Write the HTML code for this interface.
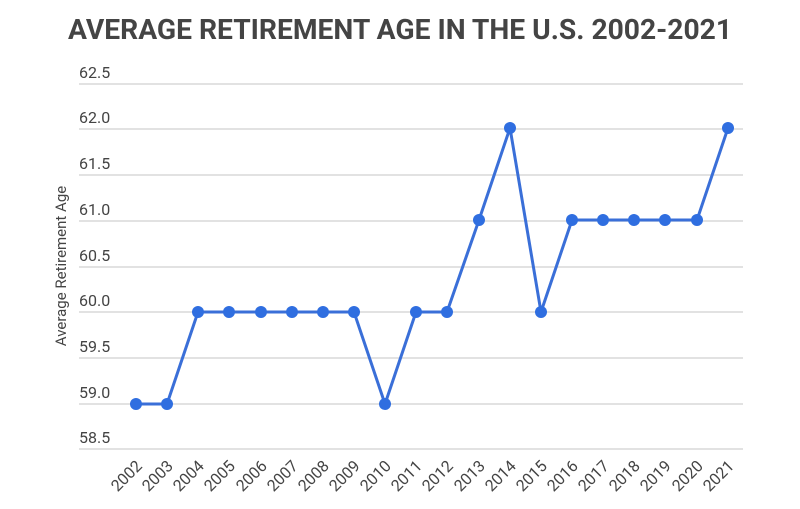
<!DOCTYPE html>
<html><head><style>body{margin:0;background:#fff}svg{display:block}</style></head><body>
<svg width="800" height="509" xmlns="http://www.w3.org/2000/svg" font-family="Roboto, 'Liberation Sans', sans-serif">
<text x="400" y="39" text-anchor="middle" font-size="28" font-weight="bold" fill="#444" textLength="664" lengthAdjust="spacingAndGlyphs">AVERAGE RETIREMENT AGE IN THE U.S. 2002-2021</text>
<g stroke="#d9d9d9" stroke-width="1.5">
<line x1="79" x2="743" y1="84" y2="84"/><line x1="79" x2="743" y1="129" y2="129"/>
<line x1="79" x2="743" y1="175" y2="175"/><line x1="79" x2="743" y1="221" y2="221"/>
<line x1="79" x2="743" y1="267" y2="267"/><line x1="79" x2="743" y1="312" y2="312"/>
<line x1="79" x2="743" y1="358" y2="358"/><line x1="79" x2="743" y1="404" y2="404"/>
<line x1="79" x2="743" y1="449" y2="449"/>
</g>
<g font-size="16" fill="#444">
<text x="79" y="78">62.5</text><text x="79" y="123">62.0</text><text x="79" y="169">61.5</text>
<text x="79" y="215">61.0</text><text x="79" y="261">60.5</text><text x="79" y="306">60.0</text>
<text x="79" y="352">59.5</text><text x="79" y="398">59.0</text><text x="79" y="443">58.5</text>
</g>
<text transform="translate(66,266) rotate(-90)" text-anchor="middle" font-size="15" fill="#444">Average Retirement Age</text>
<polyline fill="none" stroke="#3a6fd8" stroke-width="3" points="136,404 167,404 198,312 229,312 261,312 292,312 323,312 354,312 385,404 416,312 447,312 479,220 510,128 541,312 572,220 603,220 634,220 665,220 697,220 728,128"/>
<g fill="#2f6ee0">
<circle cx="136" cy="404" r="6"/><circle cx="167" cy="404" r="6"/><circle cx="198" cy="312" r="6"/><circle cx="229" cy="312" r="6"/><circle cx="261" cy="312" r="6"/><circle cx="292" cy="312" r="6"/><circle cx="323" cy="312" r="6"/><circle cx="354" cy="312" r="6"/><circle cx="385" cy="404" r="6"/><circle cx="416" cy="312" r="6"/><circle cx="447" cy="312" r="6"/><circle cx="479" cy="220" r="6"/><circle cx="510" cy="128" r="6"/><circle cx="541" cy="312" r="6"/><circle cx="572" cy="220" r="6"/><circle cx="603" cy="220" r="6"/><circle cx="634" cy="220" r="6"/><circle cx="665" cy="220" r="6"/><circle cx="697" cy="220" r="6"/><circle cx="728" cy="128" r="6"/>
</g>
<g font-size="16" fill="#444" text-anchor="end">
<text transform="translate(143,467) rotate(-45)">2002</text>
<text transform="translate(174,467) rotate(-45)">2003</text>
<text transform="translate(205,467) rotate(-45)">2004</text>
<text transform="translate(236,467) rotate(-45)">2005</text>
<text transform="translate(268,467) rotate(-45)">2006</text>
<text transform="translate(299,467) rotate(-45)">2007</text>
<text transform="translate(330,467) rotate(-45)">2008</text>
<text transform="translate(361,467) rotate(-45)">2009</text>
<text transform="translate(392,467) rotate(-45)">2010</text>
<text transform="translate(423,467) rotate(-45)">2011</text>
<text transform="translate(454,467) rotate(-45)">2012</text>
<text transform="translate(486,467) rotate(-45)">2013</text>
<text transform="translate(517,467) rotate(-45)">2014</text>
<text transform="translate(548,467) rotate(-45)">2015</text>
<text transform="translate(579,467) rotate(-45)">2016</text>
<text transform="translate(610,467) rotate(-45)">2017</text>
<text transform="translate(641,467) rotate(-45)">2018</text>
<text transform="translate(672,467) rotate(-45)">2019</text>
<text transform="translate(704,467) rotate(-45)">2020</text>
<text transform="translate(735,467) rotate(-45)">2021</text>
</g>
</svg>
</body></html>
